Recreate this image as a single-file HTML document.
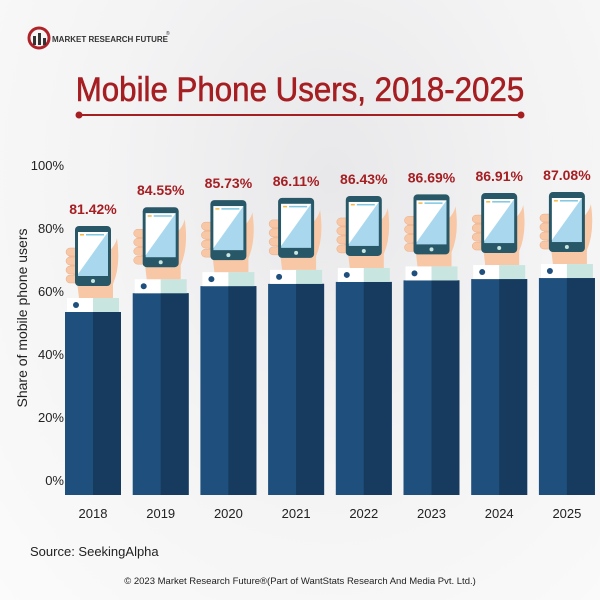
<!DOCTYPE html>
<html><head><meta charset="utf-8"><style>
body{margin:0;width:600px;height:600px;overflow:hidden;font-family:"Liberation Sans",sans-serif;}
#bg{position:absolute;left:0;top:0;width:600px;height:600px;background:radial-gradient(ellipse at 55% 30%,#e8e8ea 0%,#f3f3f4 45%,#fbfbfb 100%);}
</style></head><body>
<div id="bg"></div>
<svg id="chart" width="600" height="600" style="position:absolute;left:0;top:0">
<g>
<circle cx="39" cy="38" r="10" fill="none" stroke="#b0222a" stroke-width="3"/>
<rect x="33" y="36" width="3" height="9" fill="#333"/><rect x="38" y="33" width="3" height="12" fill="#333"/><rect x="43" y="38" width="3" height="7" fill="#333"/>
<text x="52" y="42" font-size="8" font-weight="bold" fill="#333">MARKET RESEARCH FUTURE</text>
<text x="166" y="35" font-size="5" fill="#333">®</text>
</g>
<text x="300" y="101" text-anchor="middle" font-size="34" fill="#a51e22" stroke="#a51e22" stroke-width="0.6" transform="translate(300,0) scale(0.92,1) translate(-300,0)">Mobile Phone Users, 2018-2025</text>
<g>
<line x1="79" y1="115" x2="521" y2="115" stroke="#a51e22" stroke-width="2"/>
<circle cx="79" cy="115" r="3.5" fill="#a51e22"/><circle cx="521" cy="115" r="3.5" fill="#a51e22"/>
</g>
<text transform="translate(27,318) rotate(-90)" text-anchor="middle" font-size="14" fill="#222">Share of mobile phone users</text>
<g id="yticks"></g>
<g id="bars"></g>
<text x="30" y="556" font-size="13" fill="#222">Source: SeekingAlpha</text>
<text x="300" y="584" text-anchor="middle" font-size="9.5" fill="#222">© 2023 Market Research Future®(Part of WantStats Research And Media Pvt. Ltd.)</text>
</svg>
<script>
const years=["2018","2019","2020","2021","2022","2023","2024","2025"];
const values=[81.42,84.55,85.73,86.11,86.43,86.69,86.91,87.08];
const labels=["81.42%","84.55%","85.73%","86.11%","86.43%","86.69%","86.91%","87.08%"];
const yTickVals=[0,20,40,60,80,100];
const NS="http://www.w3.org/2000/svg";
function yAxis(v){return 480-v*3.15;}
function figTop(v){return 226-(v-81.42)*6.0;}
function xCenter(i){return 93+i*67.7;}
function mk(tag,attrs,parent){const e=document.createElementNS(NS,tag);for(const k in attrs)e.setAttribute(k,attrs[k]);parent.appendChild(e);return e;}
const yt=document.getElementById('yticks');
yTickVals.forEach(v=>{
 const t=mk('text',{x:64,y:yAxis(v)+5,'text-anchor':'end','font-size':13,fill:'#222'},yt);
 t.textContent=v+'%';
 
 
});
const bars=document.getElementById('bars');
values.forEach((v,i)=>{
 const cx=xCenter(i),T=figTop(v);
 const g=mk('g',{},bars);
 
 
 mk('rect',{x:cx-28,y:T+86,width:56,height:495-(T+86),fill:'#1f4f7c'},g);
 mk('rect',{x:cx,y:T+86,width:28,height:495-(T+86),fill:'#163b5e'},g);
 mk('rect',{x:cx-26,y:T+72,width:26,height:14,fill:'#ffffff'},g);
 mk('rect',{x:cx,y:T+72,width:26,height:14,fill:'#c9e5e0'},g);
 mk('circle',{cx:cx-17,cy:T+79,r:3,fill:'#1f4f7c'},g);
 mk('path',{d:`M${cx-14} ${T+72} L${cx-16} ${T+55} Q${cx-26} ${T+40} ${cx-24} ${T+22} L${cx+10} ${T+30} Q${cx+22} ${T+22} ${cx+24} ${T+12} Q${cx+28} ${T+40} ${cx+20} ${T+58} L${cx+20} ${T+72} Z`,fill:'#f7c7a6'},g);
 for(let k=0;k<4;k++) mk('rect',{x:cx-27,y:T+22+k*9,width:14,height:8,rx:4,fill:'#f7c7a6',stroke:'#e8ad89','stroke-width':0.5},g);
 mk('rect',{x:cx-18,y:T,width:36,height:60,rx:4,fill:'#285867'},g);
 mk('rect',{x:cx-15,y:T+6,width:30,height:44,fill:'#a9d8ee'},g);
 mk('path',{d:`M${cx-15} ${T+6} L${cx+15} ${T+6} L${cx-15} ${T+48} Z`,fill:'#ffffff'},g);
 mk('circle',{cx:cx,cy:T+55,r:2,fill:'#c9e5e0'},g);
 mk('rect',{x:cx-13,y:T+8,width:4,height:1.5,fill:'#f4b942'},g);
 mk('rect',{x:cx-7,y:T+8,width:18,height:1.5,fill:'#7fc7e0'},g);
 const lt=mk('text',{x:cx,y:T-12,'text-anchor':'middle','font-size':14,'font-weight':'bold',fill:'#a51e22'},g);
 lt.textContent=labels[i];
 
 
 const xt=mk('text',{x:cx,y:518,'text-anchor':'middle','font-size':13,fill:'#222'},bars);
 xt.textContent=years[i];
 
 
});
</script>
</body></html>
